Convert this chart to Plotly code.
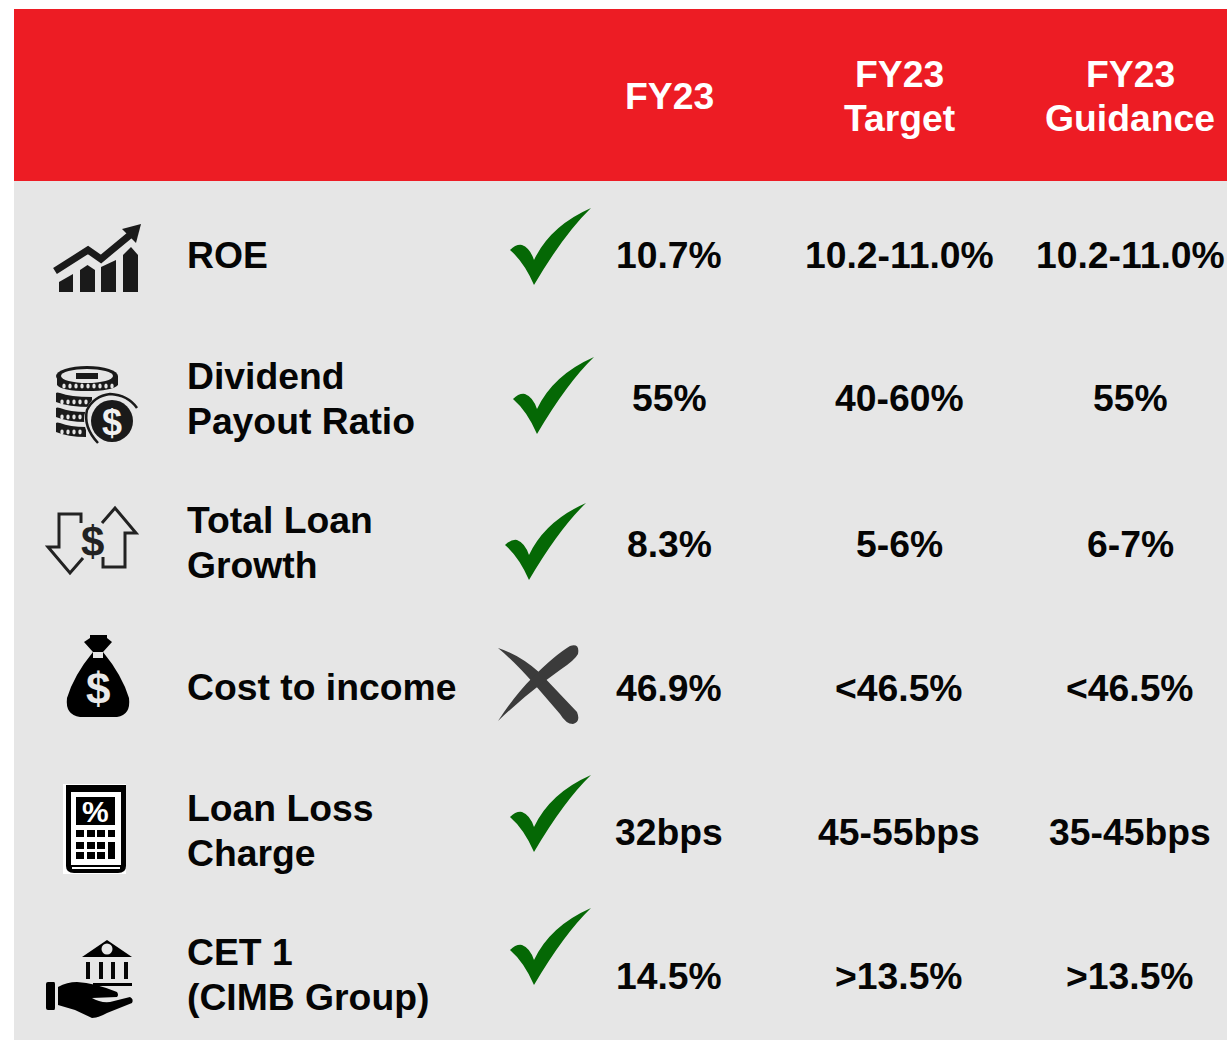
import plotly.graph_objects as go

# ---------- data ----------
header_lines = [["FY23"], ["FY23", "Target"], ["FY23", "Guidance"]]
metric_lines = [["ROE"], ["Dividend", "Payout Ratio"], ["Total Loan", "Growth"],
                ["Cost to income"], ["Loan Loss", "Charge"], ["CET 1", "(CIMB Group)"]]
fy23 = ["10.7%", "55%", "8.3%", "46.9%", "32bps", "14.5%"]
fy23_target = ["10.2-11.0%", "40-60%", "5-6%", "<46.5%", "45-55bps", ">13.5%"]
fy23_guidance = ["10.2-11.0%", "55%", "6-7%", "<46.5%", "35-45bps", ">13.5%"]
target_met = [True, True, True, False, True, True]

# ---------- layout constants (pixels of the 1227x1040 page) ----------
W, H = 1227, 1040
RED, GREY, INK = "#ED1C24", "#E6E6E6", "#050505"
FS = 37.3
col_x = [669.2, 899.3, 1130.1]
row_y = [254.6, 398.2, 543.6, 687.6, 831.6, 975.6]
label_y = [254.6, 398.6, 542.6, 686.6, 830.6, 974.6]
label_x = 185.4
check_origin = [(510, 208), (513, 357), (505, 503), None, (510, 775), (510, 908)]

shapes, texts = [], []


def path(d, fill=INK, line=None, lw=0):
    shapes.append(dict(type="path", path=d, xref="x", yref="y", fillcolor=fill,
                       line=dict(color=line or "rgba(0,0,0,0)", width=lw), layer="above"))


def stroke(d, color=INK, lw=3):
    shapes.append(dict(type="path", path=d, xref="x", yref="y", fillcolor="rgba(0,0,0,0)",
                       line=dict(color=color, width=lw), layer="above"))


def rect(x0, y0, x1, y1, fill=INK):
    shapes.append(dict(type="rect", x0=x0, y0=y0, x1=x1, y1=y1, xref="x", yref="y",
                       fillcolor=fill, line=dict(width=0), layer="above"))


def oval(cx, cy, rx, ry, fill=INK):
    shapes.append(dict(type="circle", x0=cx - rx, x1=cx + rx, y0=cy - ry, y1=cy + ry, xref="x", yref="y",
                       fillcolor=fill, line=dict(width=0), layer="above"))


def text(x, y, s, size=FS, color=INK, anchor="center", bold=True):
    t = f"<b>{s}</b>" if bold else s
    texts.append(dict(x=x, y=y, xref="x", yref="y", text=t, showarrow=False, xanchor=anchor, yanchor="middle",
                      font=dict(family="Liberation Sans, Arial, sans-serif", size=size, color=color)))


# ---------- backgrounds ----------
rect(14, 9, W, 181, RED)
rect(14, 181, W, H, GREY)

# ---------- header ----------
for x, lines in zip(col_x, header_lines):
    ys = [96] if len(lines) == 1 else [74, 118]
    for y, s in zip(ys, lines):
        text(x, y, s, color="#FFFFFF")

# ---------- metric labels ----------
for y0, lines in zip(label_y, metric_lines):
    ys = [y0] if len(lines) == 1 else [y0 - 23, y0 + 22]
    for y, s in zip(ys, lines):
        text(label_x, y, s, anchor="left")

# ---------- values ----------
for x, col in zip(col_x, [fy23, fy23_target, fy23_guidance]):
    for y, s in zip(row_y, col):
        text(x, y, s.replace("<", "&lt;").replace(">", "&gt;"))

# ---------- check marks and cross ----------
for ok, org in zip(target_met, check_origin):
    if ok:
        ox, oy = org
        P = lambda a, b: f"{ox + a},{oy + b}"
        path(f"M{P(0, 42)} Q{P(6, 36)} {P(12, 37)} Q{P(20, 40)} {P(24, 52)} "
             f"Q{P(40, 18)} {P(81, 0)} Q{P(54, 26)} {P(24, 77)} Q{P(14, 54)} {P(0, 42)} Z", fill="#056805")
    else:
        path("M498,648 Q520,655 540,673 L577,712 Q581,722 573,724 Q566,724 560,714 "
             "L535,685 Q515,662 498,648 Z", fill="#3B3B3B")
        path("M498,721 Q515,695 533,677 Q555,655 570,646 Q580,643 578,654 Q575,660 560,670 "
             "L541,684 Q520,700 498,721 Z", fill="#3B3B3B")

# ---------- icon: rising chart ----------
DK = "#1A1A1A"
path("M59,282 L73,274 L73,292 L59,292 Z", DK)
path("M80,270 L87.5,265 L95,270 L95,292 L80,292 Z", DK)
path("M101,267 L116,260 L116,292 L101,292 Z", DK)
path("M123,255 L131,247 L138,255 L138,292 L123,292 Z", DK)
stroke("M55,271 L88,250 L101,259 L130,235", DK, 7)
path("M141,224 L122,229 L136,243 Z", DK)

# ---------- icon: coins ----------
for yc, x1 in [(429, 86), (414, 86), (399, 92)]:
    path(f"M56,{yc - 6} Q57,{yc - 7} 60,{yc - 6} Q70,{yc - 2} {x1},{yc - 2} L{x1},{yc + 8} "
         f"Q68,{yc + 8} 56,{yc + 3} Z", DK)
    for dx in range(62, x1 - 4, 6):
        oval(dx, yc + 3, 1.7, 2.4, GREY)
path("M57,376 L57,385 Q62,391 87,391 Q112,391 118,385 L118,376 Z", DK)
oval(87, 376, 31, 10, DK)
oval(87, 376, 26, 7, GREY)
rect(76, 373, 98, 379, DK)
for dx in range(64, 114, 6):
    oval(dx, 386, 1.7, 2.6, GREY)
oval(112, 420, 28, 28, GREY)
stroke("M98,443 Q83,427 87,410 Q94,396 110,394 Q128,395 137,408", DK, 2.5)
oval(112, 421, 21, 21, DK)
text(112, 422, "$", size=36, color="#F0F0F0")

# ---------- icon: arrows ----------
stroke("M81,523 L81,514 L59,514 L59,547 L48,547 L70,573 L83,558", "#222222", 3)
stroke("M102,523 L115,508 L136,533 L125,533 L125,567 L103,567 L103,557", "#222222", 3)
text(92.5, 541, "$", size=42, color="#222222")

# ---------- icon: money bag ----------
path("M90,635 L107,635 L107,638 L112,642 L103,652 Q122,675 129,698 Q131,715 117,717 L80,717 "
     "Q65,715 67,698 Q74,675 93,652 L84,642 L90,638 Z", "#000000")
rect(93, 652, 103, 658, GREY)
text(98, 688, "$", size=44, color="#E8E8E8")

# ---------- icon: calculator ----------
rect(63, 784, 126, 874, "#FFFFFF")
path("M66,785 L126,785 L126,866 Q126,873 118,873 L74,873 Q66,873 66,866 Z", "#000000")
rect(71, 792, 121, 865, "#FFFFFF")
rect(72, 867, 120, 869, "#FFFFFF")
rect(76, 797, 115, 825, "#000000")
text(95.5, 811, "%", size=30, color="#FFFFFF")
for bx0, bx1 in [(76, 84), (87, 95), (97, 105), (108, 115)]:
    for by0, by1 in [(830, 837), (842, 849), (852, 859)]:
        rect(bx0, by0, bx1, by1, "#000000")
rect(108, 842, 115, 859, "#000000")

# ---------- icon: bank in hand ----------
path("M82,957 L107,940 L132,957 Z", "#000000")
oval(107, 949, 5.5, 5.5, GREY)
for px in [88, 101, 113, 126]:
    rect(px - 2, 962, px + 2, 979)
rect(93, 983, 132, 986, "#000000")
path("M48,982 L54,982 Q55,982 55,984 L55,1008 Q55,1010 54,1010 L48,1010 Q46,1010 46,1008 L46,984 Q46,982 48,982 Z",
     "#000000")
path("M58,987 Q67,982 77,982 Q95,983 117,992 Q119,995 117,997 L92,998 Q100,1003 110,1002 L130,997 "
     "Q134,999 132,1003 L107,1013 Q98,1018 92,1018 L75,1010 L58,1005 Z", "#000000")

# ---------- figure ----------
fig = go.Figure()
fig.update_layout(
    width=W, height=H, margin=dict(l=0, r=0, t=0, b=0),
    paper_bgcolor="#FFFFFF", plot_bgcolor="#FFFFFF", showlegend=False,
    xaxis=dict(range=[0, W], visible=False, fixedrange=True),
    yaxis=dict(range=[H, 0], visible=False, fixedrange=True),
    shapes=shapes, annotations=texts,
)
fig.write_html("out.html", config={"displayModeBar": False, "responsive": False},
               post_script="document.body.style.margin='0';document.documentElement.style.overflow='hidden';")
